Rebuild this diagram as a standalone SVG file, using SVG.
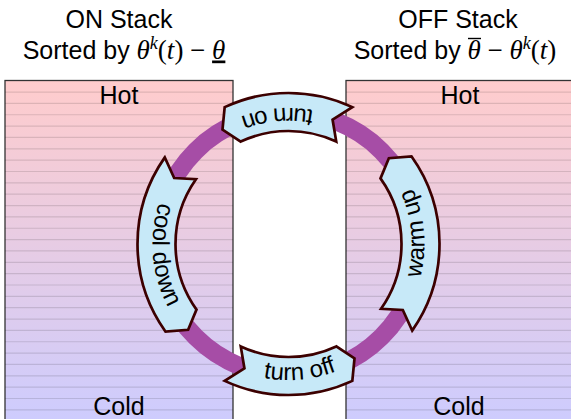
<svg xmlns="http://www.w3.org/2000/svg" xmlns:xlink="http://www.w3.org/1999/xlink" width="571" height="419" viewBox="0 0 571 419">
<style>
.t{font-family:"Liberation Sans",Arial,sans-serif;font-size:25px;fill:#000}
.m{font-family:"Liberation Serif","Times New Roman",serif;font-style:italic;font-size:27px}
.r{font-family:"Liberation Serif","Times New Roman",serif;font-size:27px}
.sup{font-family:"Liberation Serif","Times New Roman",serif;font-style:italic;font-size:18px}
.lbl{font-family:"Liberation Sans",Arial,sans-serif;font-size:24px;fill:#000}
.box{stroke:#333;stroke-width:1.3}
.arrow{fill:#c7e9f8;stroke:#3c0000;stroke-width:2.7;stroke-linejoin:miter}
.stripe{stroke:#000;stroke-opacity:0.12;stroke-width:1.2;fill:none}
.bar{stroke:#000;stroke-width:1.4}
</style>
<defs>
<linearGradient id="grad" gradientUnits="userSpaceOnUse" x1="0" y1="80" x2="0" y2="430">
<stop offset="0" stop-color="#ffcccc"/>
<stop offset="1" stop-color="#ccccff"/>
</linearGradient>
<path id="stripes" class="stripe" d="M0 92.05H228M0 103.4H228M0 114.75H228M0 126.1H228M0 137.45H228M0 148.8H228M0 160.15H228M0 171.5H228M0 182.85H228M0 194.2H228M0 205.55H228M0 216.9H228M0 228.25H228M0 239.6H228M0 250.95H228M0 262.3H228M0 273.65H228M0 285H228M0 296.35H228M0 307.7H228M0 319.05H228M0 330.4H228M0 341.75H228M0 353.1H228M0 364.45H228M0 375.8H228M0 387.15H228M0 398.5H228M0 409.85H228"/>
<path id="p-on" d="M375.92,139.82 A136 136 0 0 0 184.32,156.58"/>
<path id="p-cool" d="M184.32,156.58 A136 136 0 0 0 201.08,348.18"/>
<path id="p-off" d="M201.08,348.18 A136 136 0 0 0 392.68,331.42"/>
<path id="p-warm" d="M392.68,331.42 A136 136 0 0 0 375.92,139.82"/>
</defs>

<g id="on-stack">
<text class="t" x="119" y="28" text-anchor="middle">ON Stack</text>
<text class="t" x="124" y="58.5" text-anchor="middle">Sorted by <tspan class="m">θ</tspan><tspan class="sup" dy="-10">k</tspan><tspan class="r" dy="10">(</tspan><tspan class="m">t</tspan><tspan class="r">) − </tspan><tspan class="m" text-decoration="underline">θ</tspan></text>
<rect class="box" x="5" y="80.5" width="228" height="360" fill="url(#grad)"/>
<use xlink:href="#stripes" x="5"/>
<text class="t" x="119" y="104" text-anchor="middle">Hot</text>
<text class="t" x="119" y="415" text-anchor="middle">Cold</text>
</g>

<g id="off-stack">
<text class="t" x="458" y="28" text-anchor="middle">OFF Stack</text>
<text class="t" x="455" y="58.5" text-anchor="middle">Sorted by <tspan class="m">θ</tspan><tspan class="r"> − </tspan><tspan class="m">θ</tspan><tspan class="sup" dy="-10">k</tspan><tspan class="r" dy="10">(</tspan><tspan class="m">t</tspan><tspan class="r">)</tspan></text>
<line class="bar" x1="468" y1="38.5" x2="481" y2="38.5"/>
<rect class="box" x="346" y="80.5" width="240" height="360" fill="url(#grad)"/>
<use xlink:href="#stripes" x="346"/>
<text class="t" x="460" y="104" text-anchor="middle">Hot</text>
<text class="t" x="459" y="415" text-anchor="middle">Cold</text>
</g>

<g id="connectors">
<circle cx="288.5" cy="244" r="131.5" fill="none" stroke="#a64da6" stroke-width="18"/>
</g>

<g id="turn-on">
<path class="arrow" d="M352.32,107.15 A151 151 0 0 0 224.68,107.15 L222.5,129.68 L240.74,141.59 A113 113 0 0 1 336.26,141.59 L332.56,119.57 Z"/>
<text class="lbl" text-anchor="middle"><textPath xlink:href="#p-on" startOffset="50%">turn on</textPath></text>
</g>

<g id="cool-down">
<path class="arrow" d="M164.81,157.39 A151 151 0 0 0 165.57,331.69 L188.13,329.73 L196.5,309.62 A113 113 0 0 1 195.94,179.19 L174.18,178 Z"/>
<text class="lbl" text-anchor="middle"><textPath xlink:href="#p-cool" startOffset="50%">cool down</textPath></text>
</g>

<g id="turn-off">
<path class="arrow" d="M224.68,380.85 A151 151 0 0 0 352.32,380.85 L354.5,358.32 L336.26,346.41 A113 113 0 0 1 240.74,346.41 L244.44,368.43 Z"/>
<text class="lbl" text-anchor="middle"><textPath xlink:href="#p-off" startOffset="50%">turn off</textPath></text>
</g>

<g id="warm-up">
<path class="arrow" d="M412.19,330.61 A151 151 0 0 0 411.43,156.31 L388.87,158.27 L380.5,178.38 A113 113 0 0 1 381.06,308.81 L402.82,310 Z"/>
<text class="lbl" text-anchor="middle"><textPath xlink:href="#p-warm" startOffset="50%">warm up</textPath></text>
</g>
</svg>
